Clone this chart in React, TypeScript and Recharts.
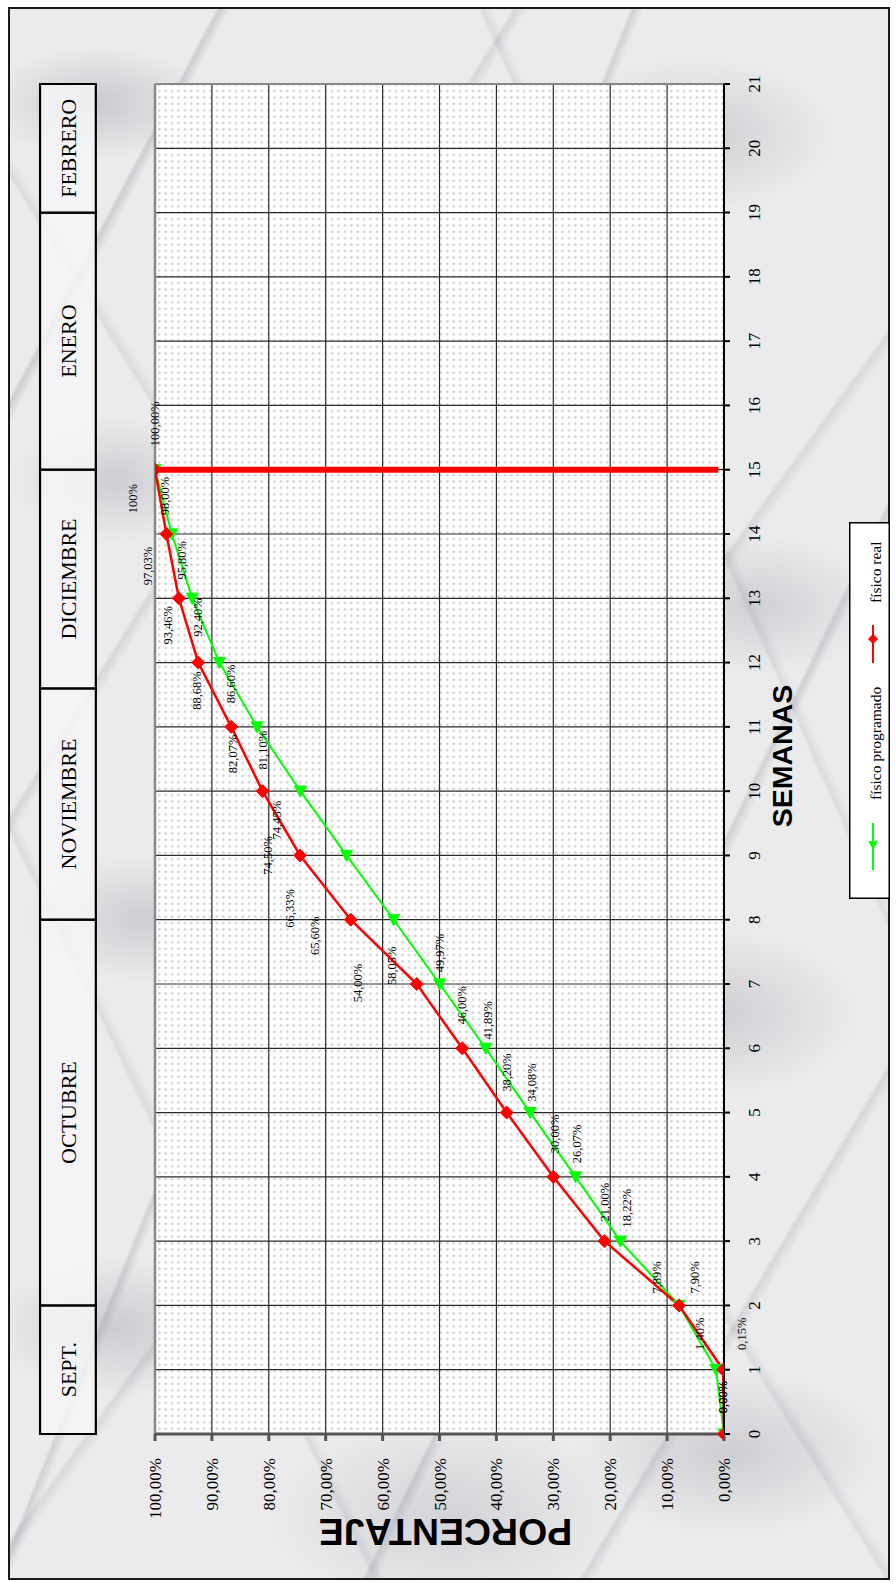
import React from 'react';
import {
  LineChart,
  Line,
  XAxis,
  YAxis,
  CartesianGrid,
  ReferenceArea,
  ReferenceLine,
  LabelList,
  Legend,
  Label,
} from 'recharts';

// Semanas con avance registrado
const weeks = [0, 1, 2, 3, 4, 5, 6, 7, 8, 9, 10, 11, 12, 13, 14, 15];
// Avance físico programado (%)
const fisicoProgramado = [0, 1.4, 7.89, 18.22, 26.07, 34.08, 41.89, 49.97, 58.05, 66.33, 74.45, 82.07, 88.68, 93.46, 97.03, 100];
// Avance físico real (%)
const fisicoReal = [0, 0.15, 7.9, 21.0, 30.0, 38.2, 46.0, 54.0, 65.6, 74.5, 81.1, 86.6, 92.4, 95.8, 98.0, 100];

// Eje de semanas y eje de porcentaje
const weekTicks = [0, 1, 2, 3, 4, 5, 6, 7, 8, 9, 10, 11, 12, 13, 14, 15, 16, 17, 18, 19, 20, 21];
const percentTicks = [0, 10, 20, 30, 40, 50, 60, 70, 80, 90, 100];

// Franja de meses sobre el área de trazado (en semanas)
const monthNames = ['SEPT.', 'OCTUBRE', 'NOVIEMBRE', 'DICIEMBRE', 'ENERO', 'FEBRERO'];
const monthStartWeek = [0, 2, 8, 11.6, 15, 19];
const monthEndWeek = [2, 8, 11.6, 15, 19, 21];

// Semana de corte
const cutoffWeek = 15;

// ---- layout (chart drawn landscape, then turned a quarter turn) ----
const CHART_W = 1570;
const CHART_H = 880;
const MONTH_BAND: [number, number] = [110.4, 120.2];

// hand-placed data label offsets [dx, dy] in chart pixels
const realLabelShift: [number, number][] = [
  [37, -1], [36, 19], [28, 16], [39, 0], [43, 2], [40, 0], [43, 0], [1, -59],
  [-16, -36], [0, -32], [41, 0], [43, 0], [45, 0], [38, 3], [38, -1], [46, 0],
];
const programadoLabelShift: [number, number][] = [
  [37, -1], [36, -16], [28, -22], [33, 7], [33, 1], [30, 2], [28, 2], [31, 0],
  [-46, -2], [-53, -57], [-29, -23], [-27, -24], [-28, -22], [-27, -24], [-32, -24], [-29, -22],
];

const SERIF = '"Liberation Serif", "Times New Roman", serif';
const SANS = '"Liberation Sans", Arial, sans-serif';
const RED = '#ff0000';
const GREEN = '#00ff00';

const rows = weeks.map((w, i) => ({ week: w, programado: fisicoProgramado[i], real: fisicoReal[i] }));

const pct = (v: number) => `${v.toFixed(2).replace('.', ',')}%`;
const pctProgramado = (v: number) => (v === 100 ? '100%' : pct(v));

const diamondPath = (cx: number, cy: number, s: number) =>
  `M${cx - s},${cy} L${cx},${cy - s} L${cx + s},${cy} L${cx},${cy + s} Z`;
const trianglePath = (cx: number, cy: number, s: number) =>
  `M${cx - s},${cy} L${cx + s * 0.85},${cy - s} L${cx + s * 0.85},${cy + s} Z`;

const RealDot = (p: any) => {
  if (p.cx == null || p.cy == null) return <g key={`rd-${p.index}`} />;
  return <path key={`rd-${p.index}`} d={diamondPath(p.cx, p.cy, 6.5)} fill={RED} stroke={RED} strokeWidth={1} />;
};
const ProgramadoDot = (p: any) => {
  if (p.cx == null || p.cy == null) return <g key={`pd-${p.index}`} />;
  return <path key={`pd-${p.index}`} d={trianglePath(p.cx, p.cy, 6)} fill={GREEN} stroke={GREEN} strokeWidth={1} />;
};

const makeLabel = (shift: [number, number][], fmt: (v: number) => string) => (p: any) => {
  const { x, y, value, index } = p;
  if (x == null || y == null) return null;
  const [dx, dy] = shift[index] || [0, 0];
  return (
    <text
      x={x + dx}
      y={y + dy}
      textAnchor="middle"
      dominantBaseline="central"
      fontSize={12.5}
      fontFamily={SERIF}
      fill="#000"
    >
      {fmt(Number(value))}
    </text>
  );
};

const LegendBox = () => (
  <svg width={377} height={41} style={{ display: 'block', overflow: 'visible' }}>
    <rect x={0.75} y={0.75} width={375.5} height={39.5} fill="#ffffff" stroke="#000" strokeWidth={1.5} />
    <line x1={29} y1={24} x2={76} y2={24} stroke={GREEN} strokeWidth={2} />
    <path d={trianglePath(54, 24, 4)} fill={GREEN} stroke={GREEN} />
    <text x={99} y={26} dominantBaseline="central" fontSize={15.5} fontFamily={SERIF} fill="#000">
      físico programado
    </text>
    <line x1={236} y1={24} x2={274} y2={24} stroke={RED} strokeWidth={2} />
    <path d={diamondPath(260, 24, 4.5)} fill={RED} stroke={RED} />
    <text x={296} y={26} dominantBaseline="central" fontSize={15.5} fontFamily={SERIF} fill="#000">
      físico real
    </text>
  </svg>
);

// light grey marble backdrop: soft clouds plus a few thin veins
const vein = (deg: number, at: number, a: number) =>
  `linear-gradient(${deg}deg, transparent ${at}%, rgba(105,105,115,${a}) ${at + 0.25}%, transparent ${at + 0.9}%)`;
const cloud = (w: number, h: number, x: number, y: number, a: number) =>
  `radial-gradient(ellipse ${w}px ${h}px at ${x}% ${y}%, rgba(140,140,150,${a}), transparent 70%)`;

const marble: React.CSSProperties = {
  backgroundColor: '#ebebed',
  backgroundImage: [
    vein(118, 12, 0.22), vein(122, 27, 0.16), vein(112, 41, 0.2), vein(126, 55, 0.14),
    vein(116, 68, 0.2), vein(121, 83, 0.16), vein(64, 22, 0.12), vein(58, 47, 0.12), vein(66, 74, 0.12),
    cloud(160, 80, 10, 6, 0.35), cloud(200, 110, 78, 8, 0.3), cloud(150, 90, 12, 30, 0.3),
    cloud(180, 100, 85, 38, 0.28), cloud(170, 90, 15, 58, 0.3), cloud(210, 120, 80, 64, 0.3),
    cloud(180, 100, 12, 84, 0.32), cloud(220, 120, 82, 92, 0.3), cloud(260, 140, 50, 96, 0.25),
  ].join(','),
};

export default function App() {
  return (
    <div style={{ position: 'absolute', left: 0, top: 0, width: 896, height: 1582, overflow: 'hidden' }}>
      <div
        style={{
          position: 'absolute',
          left: 8,
          top: 7,
          width: 882,
          height: 1573,
          boxSizing: 'border-box',
          border: '2px solid #1a1a1a',
          ...marble,
        }}
      />
      <div
        style={{
          position: 'absolute',
          left: 9,
          top: 9,
          width: CHART_W,
          height: CHART_H,
          transformOrigin: '0 0',
          transform: `translateY(${CHART_W}px) rotate(-90deg)`,
        }}
      >
        <LineChart
          width={CHART_W}
          height={CHART_H}
          data={rows}
          margin={{ top: 146, right: 75, left: 65, bottom: 105 }}
          style={{ fontFamily: SERIF }}
        >
          <defs>
            <pattern id="dotFill" width={6.4} height={6.4} patternUnits="userSpaceOnUse">
              <rect width={6.4} height={6.4} fill="#ffffff" />
              <rect x={2.2} y={2.2} width={1.9} height={1.9} fill="#bcbcbc" />
            </pattern>
          </defs>
          <CartesianGrid stroke="#2a2a2a" strokeWidth={1.2} fill="url(#dotFill)" fillOpacity={1} />
          <XAxis
            dataKey="week"
            type="number"
            domain={[0, 21]}
            ticks={weekTicks}
            interval={0}
            height={60}
            stroke="#000"
            strokeWidth={2}
            tickSize={6}
            tickMargin={18}
            tick={{ fontSize: 17, fontFamily: SERIF, fill: '#000' }}
          >
            <Label
              content={(p: any) => {
                const vb = p.viewBox || { x: 145, y: 715, width: 1350, height: 60 };
                return (
                  <text
                    x={vb.x + vb.width / 2 + 3}
                    y={vb.y + 58}
                    textAnchor="middle"
                    dominantBaseline="central"
                    fontSize={28.5}
                    fontWeight="bold"
                    fontFamily={SANS}
                    fill="#000"
                  >
                    SEMANAS
                  </text>
                );
              }}
            />
          </XAxis>
          <YAxis
            type="number"
            domain={[0, 100]}
            allowDataOverflow
            ticks={percentTicks}
            interval={0}
            width={80}
            stroke="#555"
            strokeWidth={3}
            tickSize={7}
            tickMargin={17}
            tickFormatter={(v: number) => pct(v)}
            tick={{ fontSize: 17, fontFamily: SERIF, fill: '#000' }}
          >
            <Label
              content={(p: any) => {
                const vb = p.viewBox || { x: 65, y: 146, width: 80, height: 569 };
                const cx = vb.x - 18;
                const cy = vb.y + vb.height / 2 + 6;
                return (
                  <text
                    x={cx}
                    y={cy}
                    transform={`rotate(-90 ${cx} ${cy})`}
                    textAnchor="middle"
                    dominantBaseline="central"
                    fontSize={37.5}
                    fontWeight="bold"
                    fontFamily={SANS}
                    fill="#000"
                  >
                    PORCENTAJE
                  </text>
                );
              }}
            />
          </YAxis>
          <ReferenceLine y={100} stroke="#888" strokeWidth={2.5} ifOverflow="visible" />
          <ReferenceLine x={21} stroke="#888" strokeWidth={2} ifOverflow="visible" />
          {monthNames.map((m, i) => (
            <ReferenceArea
              key={m}
              x1={monthStartWeek[i]}
              x2={monthEndWeek[i]}
              y1={MONTH_BAND[0]}
              y2={MONTH_BAND[1]}
              ifOverflow="visible"
              fill="#f6f6f7"
              fillOpacity={0.8}
              stroke="#000"
              strokeWidth={2.2}
              label={{ value: m, position: 'center', fontSize: 22, fontFamily: SERIF, fill: '#000' }}
            />
          ))}
          <ReferenceLine
            segment={[
              { x: cutoffWeek, y: 1 },
              { x: cutoffWeek, y: 100 },
            ]}
            stroke={RED}
            strokeWidth={6}
            ifOverflow="visible"
          />
          <Line
            type="linear"
            dataKey="programado"
            stroke={GREEN}
            strokeWidth={2}
            dot={ProgramadoDot}
            activeDot={false}
            isAnimationActive={false}
          >
            <LabelList dataKey="programado" content={makeLabel(programadoLabelShift, pctProgramado)} />
          </Line>
          <Line
            type="linear"
            dataKey="real"
            stroke={RED}
            strokeWidth={2.5}
            dot={RealDot}
            activeDot={false}
            isAnimationActive={false}
          >
            <LabelList dataKey="real" content={makeLabel(realLabelShift, pct)} />
          </Line>
          <Legend
            layout="horizontal"
            verticalAlign="middle"
            align="center"
            wrapperStyle={{ left: 680, top: 840, width: 377, height: 41 }}
            content={() => <LegendBox />}
          />
        </LineChart>
      </div>
    </div>
  );
}
